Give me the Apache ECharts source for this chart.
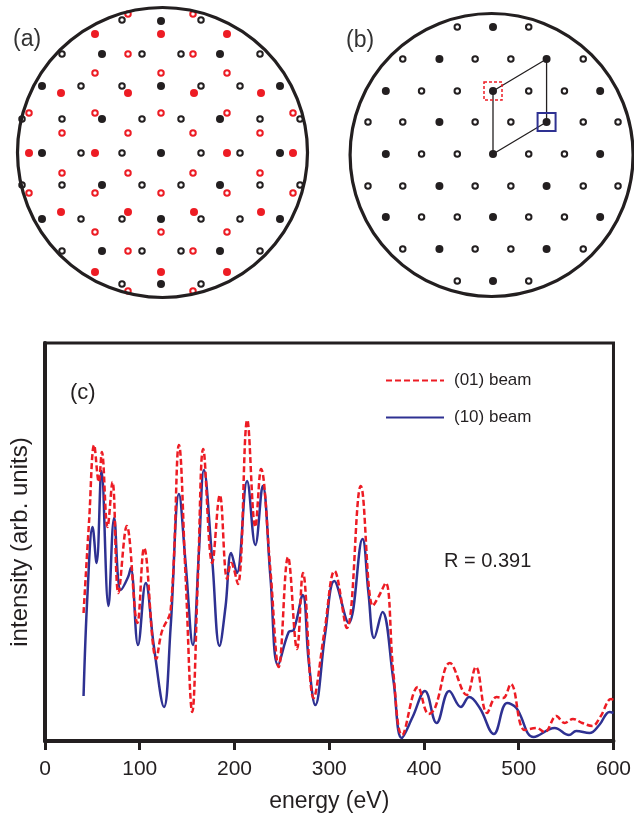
<!DOCTYPE html>
<html>
<head>
<meta charset="utf-8">
<script src="https://cdn.jsdelivr.net/npm/echarts@6/dist/echarts.min.js"></script>
<style>
html,body{margin:0;padding:0;background:#fff;}
#chart{width:634px;height:816px;}
</style>
</head>
<body>
<div id="chart"></div>
<script>
// ---- panel (c) data: energy (eV) vs intensity (arb. units) ----
var beam10 = [
  [40.7,45],[44.9,148],[50.2,214],[54.4,178],[59.6,270],[67,135],[73,223],[80,151],[87.7,164],[90.5,173],
  [98.2,96],[106.3,158],[115,94],[125.6,34],[132.6,114],[141.4,247],[148.4,178],[156.1,96],[162.4,188],
  [167.7,271],[176.5,181],[184.2,95],[190.5,134],[196.5,188],[202.5,168],[213.3,260],[222,196],[229.8,255],
  [237.9,164],[246,76],[257.2,109],[262.5,111],[272,146],[278.2,81],[285.3,36],[295.8,108],[305.3,160],
  [320.4,118],[335.1,202],[341.4,148],[347.4,103],[356.1,129],[367.7,61],[376.5,3],[388,24],[401,50],
  [413.3,18],[426.7,50],[438.9,34],[447.7,44],[458.9,33],[473.7,7],[487.7,38],[497.5,33],[515.8,4],
  [537.9,13],[553,6],[560.7,10],[574.7,8],[585,16],[595.8,29],[600,28]
];
var beam01 = [
  [40.7,128],[46.6,221],[51.9,296],[56.8,259],[60,289],[66,214],[71.2,259],[77.5,148],[86.3,215],
  [97.5,118],[104.6,193],[117.5,82],[123.2,109],[132.6,131],[141.4,296],[148.4,164],[155.4,29],[161.4,164],
  [167,292],[176.5,178],[184.5,246],[192.3,162],[196.5,178],[203.5,157],[213.5,321],[222,214],[228,272],
  [237.9,171],[246.7,74],[256.5,184],[266,92],[272.3,168],[283.5,43],[295,110],[305.6,170],[318.6,113],
  [333.3,255],[346,135],[351.9,144],[359.6,158],[367.7,68],[377,6],[393.5,54],[405,27],[411.6,33],
  [427.4,78],[444.9,46],[454.7,74],[466.6,28],[476.5,44],[483.5,43],[491.6,57],[506.3,11],[518.6,13],
  [527.4,9],[539.7,25],[548.4,18],[557.2,22],[567,18],[577.6,15],[586,24],[597.6,42],[600,41]
];
var energyTicks = [0,100,200,300,400,500,600];
var seriesNames = ['(01) beam','(10) beam'];
var rValue = 'R = 0.391';

// ---- panel (a) diffraction spots (offsets from centre spot) ----
var aBlackFilled = [[0,132],[-119,67],[0,67],[119,67],[-59,99],[59,99],[-59,34],[59,34],[-119,0],[0,0],[119,0],
  [-59,-32],[59,-32],[-119,-66],[0,-66],[119,-66],[-59,-98],[59,-98],[0,-131]];
var aBlackOpen = [[-39,133],[40,133],[-99,99],[-19,99],[20,99],[99,99],[-80,67],[-39,67],[40,67],[79,67],
  [-139,34],[-99,34],[-19,34],[20,34],[99,34],[139,34],[-80,0],[-39,0],[40,0],[79,0],
  [-139,-32],[-99,-32],[-19,-32],[20,-32],[99,-32],[139,-32],[-80,-66],[-39,-66],[40,-66],[79,-66],
  [-99,-98],[-19,-98],[20,-98],[99,-98],[-39,-131],[40,-131]];
var aRedFilled = [[-66,119],[0,119],[66,119],[-100,60],[-33,60],[33,60],[100,60],[-132,0],[-66,0],[66,0],[132,0],
  [-100,-59],[-33,-59],[33,-59],[100,-59],[-66,-119],[0,-119],[66,-119]];
var aRedOpen = [[-33,139],[32,139],[-33,99],[32,99],[-66,80],[0,80],[66,80],[-132,40],[-66,40],[0,40],[66,40],[132,40],
  [-99,20],[-33,20],[32,20],[99,20],[-99,-20],[-33,-20],[32,-20],[99,-20],
  [-132,-40],[-66,-40],[0,-40],[66,-40],[132,-40],[-66,-79],[0,-79],[66,-79],[-33,-98],[32,-98],[-33,-138],[32,-138]];
var aScreen = [[1.5,0.5]];

// ---- panel (b) ----
var bFilled = [[0,127],[-57,95],[57,95],[-114,63],[0,63],[114,63],[-57,32],[57,32],[-114,0],[0,0],[114,0],
  [-57,-32],[57,-32],[-114,-63],[0,-63],[114,-63],[-57,-95],[57,-95],[0,-127]];
var bOpen = [[-38,127],[38,127],[-96,95],[-19,95],[19,95],[96,95],[-76,63],[-38,63],[38,63],[76,63],
  [-133,32],[-96,32],[-19,32],[19,32],[96,32],[133,32],[-76,0],[-38,0],[38,0],[76,0],
  [-133,-32],[-96,-32],[-19,-32],[19,-32],[96,-32],[133,-32],[-76,-63],[-38,-63],[38,-63],[76,-63],
  [-96,-95],[-19,-95],[19,-95],[96,-95],[-38,-127],[38,-127]];
var bCell = [[0,0],[0,63],[57,95],[57,32],[0,0]];
var bMarkRed = [[0,63]];
var bMarkBlue = [[57,32]];
var bScreen = [[-1.5,-1]];

var BLACK = '#231f20', RED = '#ed1c24', BLUE = '#2e3192';
var FONT = 'Liberation Sans';

var chart = echarts.init(document.getElementById('chart'), null, {renderer:'canvas'});

function hiddenAxis(idx){ return {gridIndex:idx, type:'value', min:-150, max:150, show:false}; }
function dots(data, xi, color, filled, size){
  return {type:'scatter', xAxisIndex:xi, yAxisIndex:xi, data:data, symbol:'circle', symbolSize:size,
    silent:true, clip:false, z:3,
    itemStyle: filled ? {color:color, borderWidth:0, opacity:1} : {color:'rgba(0,0,0,0)', borderColor:color, borderWidth:2, opacity:1}};
}
function screen(data, xi, size){
  return {type:'scatter', xAxisIndex:xi, yAxisIndex:xi, data:data, symbol:'circle', symbolSize:size,
    silent:true, clip:false, z:5,
    itemStyle:{color:'rgba(0,0,0,0)', borderColor:BLACK, borderWidth:3.2, opacity:1}};
}

var option = {
  animation:false,
  backgroundColor:'#fff',
  textStyle:{fontFamily:FONT},
  grid:[
    {left:11, top:3, width:300, height:300, show:false},
    {left:352, top:4, width:300, height:300, show:false},
    {left:44, top:343, width:570, height:398, show:true, borderColor:BLACK, borderWidth:3}
  ],
  xAxis:[
    hiddenAxis(0), hiddenAxis(1),
    {gridIndex:2, type:'value', min:0, max:600, interval:100,
     name:'energy (eV)', nameLocation:'middle', nameGap:49,
     nameTextStyle:{fontSize:23, color:BLACK, fontFamily:FONT},
     axisLine:{show:true, onZero:false, lineStyle:{color:BLACK, width:4}},
     axisTick:{show:true, inside:false, length:9, lineStyle:{color:BLACK, width:3}},
     axisLabel:{fontSize:21, color:BLACK, margin:18, fontFamily:FONT},
     splitLine:{show:false}}
  ],
  yAxis:[
    hiddenAxis(0), hiddenAxis(1),
    {gridIndex:2, type:'value', min:0, max:398,
     name:'intensity (arb. units)', nameLocation:'middle', nameGap:13, nameRotate:90,
     nameTextStyle:{fontSize:24, color:BLACK, fontFamily:FONT},
     axisLine:{show:true, lineStyle:{color:BLACK, width:4}},
     axisTick:{show:false}, axisLabel:{show:false}, splitLine:{show:false}}
  ],
  legend:{
    data:seriesNames, orient:'vertical', left:380, top:367,
    itemWidth:58, itemHeight:14, itemGap:20,
    itemStyle:{opacity:0},
    textStyle:{fontSize:17, color:BLACK, fontFamily:FONT, padding:[0,0,0,5]},
    selectedMode:false
  },
  graphic:[
    {type:'text', left:13, top:28, style:{text:'(a)', font:'23px "Liberation Sans"', fill:'#333'}},
    {type:'text', left:346, top:29, style:{text:'(b)', font:'23px "Liberation Sans"', fill:'#333'}},
    {type:'text', left:70, top:382, style:{text:'(c)', font:'22px "Liberation Sans"', fill:BLACK}},
    {type:'text', left:444, top:551, style:{text:rValue, font:'20px "Liberation Sans"', fill:BLACK}}
  ],
  series:[
    // panel (a)
    dots(aBlackOpen, 0, BLACK, false, 5.5),
    dots(aRedOpen, 0, RED, false, 5.5),
    dots(aBlackFilled, 0, BLACK, true, 8),
    dots(aRedFilled, 0, RED, true, 8),
    screen(aScreen, 0, 290),
    // panel (b)
    dots(bOpen, 1, BLACK, false, 5.5),
    dots(bFilled, 1, BLACK, true, 8),
    {type:'line', xAxisIndex:1, yAxisIndex:1, data:bCell, symbol:'none', silent:true, z:4,
     lineStyle:{color:BLACK, width:1.3}},
    {type:'scatter', xAxisIndex:1, yAxisIndex:1, data:bMarkRed, symbol:'rect', symbolSize:18, silent:true, z:6,
     itemStyle:{color:'rgba(0,0,0,0)', borderColor:RED, borderWidth:1.5, borderType:[3,2], opacity:1}},
    {type:'scatter', xAxisIndex:1, yAxisIndex:1, data:bMarkBlue, symbol:'rect', symbolSize:18, silent:true, z:6,
     itemStyle:{color:'rgba(0,0,0,0)', borderColor:BLUE, borderWidth:2, opacity:1}},
    screen(bScreen, 1, 283),
    // panel (c)
    {name:seriesNames[1], type:'line', xAxisIndex:2, yAxisIndex:2, data:beam10, symbol:'none', smooth:0.4,
     lineStyle:{color:BLUE, width:2.5}, itemStyle:{color:BLUE}, z:3},
    {name:seriesNames[0], type:'line', xAxisIndex:2, yAxisIndex:2, data:beam01, symbol:'none', smooth:0.4,
     lineStyle:{color:RED, width:2.5, type:[6,3]}, itemStyle:{color:RED}, z:4}
  ]
};
chart.setOption(option);
</script>
</body>
</html>
